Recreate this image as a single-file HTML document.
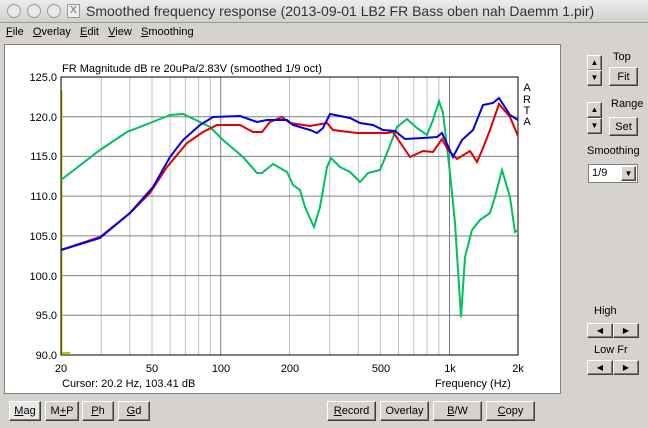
<!DOCTYPE html><html><head><style>
body{margin:0;width:648px;height:428px;background:#d6d3ce;font-family:"Liberation Sans",sans-serif;font-size:11px;position:relative;overflow:hidden}
.a{position:absolute}
.btn{position:absolute;background:#d6d3ce;border:1px solid;border-color:#fff #404040 #404040 #fff;box-shadow:inset -1px -1px #808080;text-align:center;font-size:11px;line-height:18px}
</style></head><body>
<div class="a" style="left:0;top:0;width:648px;height:22px;background:linear-gradient(#ececec,#d0d0d0);border-bottom:1px solid #999"></div>
<div class="a" style="left:7px;top:4px;width:12px;height:12px;border-radius:7px;border:1px solid #999;background:#e8e8e8"></div>
<div class="a" style="left:27px;top:4px;width:12px;height:12px;border-radius:7px;border:1px solid #999;background:#e8e8e8"></div>
<div class="a" style="left:47px;top:4px;width:12px;height:12px;border-radius:7px;border:1px solid #999;background:#e8e8e8"></div>
<div class="a" style="left:67px;top:4px;width:11px;height:12px;border:1px solid #999;background:#eee;font-size:10px;line-height:12px;text-align:center;color:#666">X</div>
<div class="a" style="left:86px;top:3px;font-size:14px;color:#333">Smoothed frequency response (2013-09-01 LB2 FR Bass oben nah Daemm 1.pir)</div>
<div class="a" style="left:6px;top:26px;font-size:11px"><u>F</u>ile&nbsp;&nbsp; <u>O</u>verlay&nbsp;&nbsp; <u>E</u>dit&nbsp;&nbsp; <u>V</u>iew&nbsp;&nbsp; <u>S</u>moothing</div>
<div class="a" style="left:4px;top:44px;width:555px;height:348px;background:#fff;border:1px solid #808080"></div>
<svg class="a" style="left:0;top:0" width="648" height="428" font-family="Liberation Sans" font-size="11">
<g stroke="#c0c0c0" stroke-width="1">
<line x1="101.2" y1="77" x2="101.2" y2="355"/><line x1="129.8" y1="77" x2="129.8" y2="355"/><line x1="152" y1="77" x2="152" y2="355"/><line x1="170.1" y1="77" x2="170.1" y2="355"/><line x1="185.4" y1="77" x2="185.4" y2="355"/><line x1="198.6" y1="77" x2="198.6" y2="355"/><line x1="210.3" y1="77" x2="210.3" y2="355"/>
<line x1="289.5" y1="77" x2="289.5" y2="355"/><line x1="329.7" y1="77" x2="329.7" y2="355"/><line x1="358.3" y1="77" x2="358.3" y2="355"/><line x1="380.4" y1="77" x2="380.4" y2="355"/><line x1="398.5" y1="77" x2="398.5" y2="355"/><line x1="413.8" y1="77" x2="413.8" y2="355"/><line x1="427.1" y1="77" x2="427.1" y2="355"/><line x1="438.8" y1="77" x2="438.8" y2="355"/>
</g>
<g stroke="#808080"><line x1="61" y1="116.7" x2="518" y2="116.7"/><line x1="61" y1="156.4" x2="518" y2="156.4"/><line x1="61" y1="196.1" x2="518" y2="196.1"/><line x1="61" y1="235.9" x2="518" y2="235.9"/><line x1="61" y1="275.6" x2="518" y2="275.6"/><line x1="61" y1="315.3" x2="518" y2="315.3"/>
<line x1="220.7" y1="77" x2="220.7" y2="355"/><line x1="449.5" y1="77" x2="449.5" y2="355"/></g>
<rect x="61" y="77" width="457" height="278" fill="none" stroke="#000"/>
<line x1="62" y1="353" x2="70" y2="353" stroke="#c8c000" stroke-width="2"/><line x1="62" y1="90" x2="62" y2="354" stroke="#c8c000" stroke-width="1"/>
<polyline fill="none" stroke="#00c060" stroke-width="2" points="61,180 100,150 127,132 150,123 170,115 183,114 200,122 210,127 223,140 243,157 257,173 262,173 273,164 287,172 293,185 300,190 305,207 314,227 320,207 327,167 331,158 340,167 350,172 360,182 368,173 380,170 387,153 397,127 407,119 417,128 427,135 433,120 439,101 443,113 450,173 455,223 461,317 465,257 472,230 480,220 490,213 495,197 502,170 510,197 515,232 518,230"/>
<polyline fill="none" stroke="#e00000" stroke-width="2" points="61,250 100,237 130,213 150,193 167,167 187,143 203,132 217,125 240,125 253,132 262,132 270,122 282,117 290,123 310,126 327,123 333,130 357,133 367,133 387,133 393,132 410,157 423,151 433,152 442,139 448,150 457,159 470,151 477,162 483,148 490,130 499,104 510,117 518,136"/>
<polyline fill="none" stroke="#0000e0" stroke-width="2" points="61,250 100,238 130,213 153,187 170,157 183,140 200,125 213,117 240,116 257,122 267,120 287,120 293,125 310,130 317,133 323,128 330,114 350,118 360,123 373,125 383,130 395,131 405,139 423,138 437,137 442,133 453,157 462,140 473,130 483,105 493,103 499,98 510,115 518,120"/>
<g text-anchor="end"><text x="57" y="81">125.0</text><text x="57" y="121">120.0</text><text x="57" y="160">115.0</text><text x="57" y="200">110.0</text><text x="57" y="240">105.0</text><text x="57" y="280">100.0</text><text x="57" y="319">95.0</text><text x="57" y="359">90.0</text></g>
<g text-anchor="middle"><text x="61" y="372">20</text><text x="152" y="372">50</text><text x="221" y="372">100</text><text x="290" y="372">200</text><text x="381" y="372">500</text><text x="450" y="372">1k</text><text x="518" y="372">2k</text>
<text x="527" y="91">A</text><text x="527" y="103">R</text><text x="527" y="114">T</text><text x="527" y="125">A</text></g>
<text x="62" y="72">FR Magnitude dB re 20uPa/2.83V (smoothed 1/9 oct)</text>
<text x="62" y="387">Cursor: 20.2 Hz, 103.41 dB</text>
<text x="435" y="387">Frequency (Hz)</text>
</svg>
<div class="btn" style="left:587px;top:55px;width:13px;height:14px;line-height:14px;font-size:8px">▲</div>
<div class="btn" style="left:587px;top:70px;width:13px;height:14px;line-height:14px;font-size:8px">▼</div>
<div class="a" style="left:613px;top:51px">Top</div>
<div class="btn" style="left:609px;top:67px;width:27px;height:17px">Fit</div>
<div class="btn" style="left:587px;top:102px;width:13px;height:14px;line-height:14px;font-size:8px">▲</div>
<div class="btn" style="left:587px;top:118px;width:13px;height:14px;line-height:14px;font-size:8px">▼</div>
<div class="a" style="left:611px;top:98px">Range</div>
<div class="btn" style="left:609px;top:117px;width:27px;height:17px">Set</div>
<div class="a" style="left:587px;top:145px">Smoothing</div>
<div class="a" style="left:588px;top:164px;width:48px;height:17px;background:#fff;border:1px solid #808080;line-height:17px">&nbsp;1/9<div class="btn" style="right:1px;top:1px;width:13px;height:13px;line-height:13px;font-size:8px">▼</div></div>
<div class="a" style="left:594px;top:305px">High</div>
<div class="btn" style="left:587px;top:323px;width:24px;height:13px;line-height:13px;font-size:8px">◀</div>
<div class="btn" style="left:613px;top:323px;width:24px;height:13px;line-height:13px;font-size:8px">▶</div>
<div class="a" style="left:594px;top:344px">Low Fr</div>
<div class="btn" style="left:587px;top:360px;width:24px;height:13px;line-height:13px;font-size:8px">◀</div>
<div class="btn" style="left:613px;top:360px;width:24px;height:13px;line-height:13px;font-size:8px">▶</div>
<div class="btn" style="left:9px;top:401px;width:30px;height:18px;background:#e8e8e8"><u>M</u>ag</div>
<div class="btn" style="left:45px;top:401px;width:32px;height:18px">M<u>+</u>P</div>
<div class="btn" style="left:82px;top:401px;width:30px;height:18px"><u>P</u>h</div>
<div class="btn" style="left:118px;top:401px;width:30px;height:18px"><u>G</u>d</div>
<div class="btn" style="left:327px;top:401px;width:47px;height:18px"><u>R</u>ecord</div>
<div class="btn" style="left:380px;top:401px;width:47px;height:18px">Overlay</div>
<div class="btn" style="left:433px;top:401px;width:47px;height:18px"><u>B</u>/W</div>
<div class="btn" style="left:486px;top:401px;width:47px;height:18px"><u>C</u>opy</div>
</body></html>
